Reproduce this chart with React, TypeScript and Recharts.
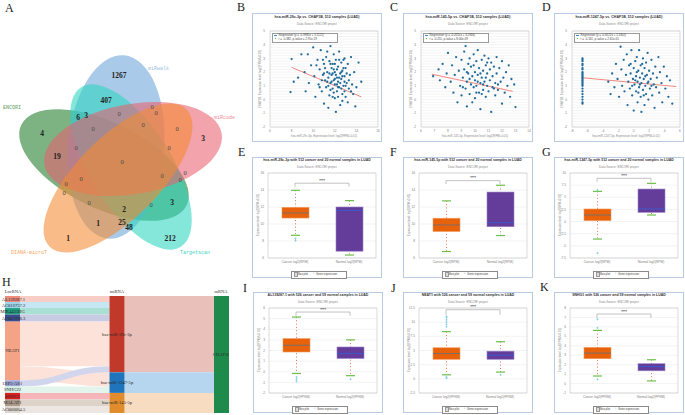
import React from 'react';
import {
  ScatterChart,
  Scatter,
  ComposedChart,
  Bar,
  Cell,
  XAxis,
  YAxis,
  CartesianGrid,
  ReferenceLine,
  ReferenceArea,
  Sankey,
} from 'recharts';

// ---------- A: Venn ----------
const vennSets = ['miRwalk', 'miRcode', 'Targetscan', 'DIANA-microT', 'ENCORI'];
const vennCounts = [
  1267, 407, 6, 3, 0, 0, 0, 0, 0, 0, 3, 4, 0, 19, 0, 0, 0, 0, 0, 0, 0, 0, 0, 2, 0, 3, 1, 25, 48, 1, 212,
];

// ---------- B-D: correlation scatter ----------
const scatterB: [number, number][] = [
  [7.9, 0.55], [8.0, 2.95], [8.2, 1.3], [8.6, 1.6], [8.9, 3.3], [9.2, 2.0], [9.3, 0.6], [9.5, 3.3], [9.6, 1.2], [9.8, 2.5],
  [10.0, 3.8], [10.1, 1.7], [10.2, 0.2], [10.4, 2.9], [10.5, 1.1], [10.6, 2.2], [10.7, 3.6], [10.8, 0.6], [10.9, 1.8], [11.0, 2.6],
  [11.0, -0.3], [11.1, 1.4], [11.2, 3.1], [11.2, 0.9], [11.3, 2.0], [11.4, 1.6], [11.4, -0.6], [11.5, 2.8], [11.5, 0.3], [11.6, 3.9],
  [11.6, 1.2], [11.7, 2.3], [11.7, 1.8], [11.8, 0.8], [11.8, 2.6], [11.9, 1.4], [11.9, 3.3], [12.0, 0.1], [12.0, 2.0], [12.0, 1.1],
  [12.1, -0.9], [12.1, 2.9], [12.2, 1.6], [12.2, 0.6], [12.3, 2.4], [12.3, 1.3], [12.4, 3.5], [12.4, 0.9], [12.5, 1.9], [12.5, -0.4],
  [12.6, 2.7], [12.6, 1.5], [12.7, 0.4], [12.7, 2.1], [12.8, 1.0], [12.9, 3.0], [12.9, 1.7], [13.0, 0.2], [13.0, 2.3], [13.1, 1.2],
  [13.2, -0.2], [13.2, 2.6], [13.3, 0.8], [13.4, 1.8], [13.5, 3.1], [13.6, 1.1], [13.7, 0.4], [13.8, 2.0], [14.0, 0.9], [14.2, 2.7],
  [14.45, 1.3], [13.9, -0.5], [11.3, 3.5], [10.3, 2.5], [11.9, 0.5], [12.8, 2.9], [11.4, 1.0], [11.6, 0.7], [11.8, 1.9], [11.9, 2.2],
  [12.0, 1.5], [12.1, 1.8], [12.2, 2.2], [12.3, 0.9], [12.4, 1.6], [12.5, 1.2], [12.6, 0.8], [12.7, 1.7], [12.8, 2.3], [12.9, 0.6],
  [11.5, 1.9], [11.7, 1.3], [12.0, 2.6], [12.2, 1.1], [12.6, 2.0], [11.3, 1.3], [11.0, 1.9], [10.8, 1.4], [10.6, 0.9], [12.4, 2.9],
  [12.9, 1.3], [13.1, 1.9], [13.3, 1.4], [13.5, 0.6], [11.8, 0.2], [12.3, 0.2], [11.1, 2.3], [10.9, 2.9], [12.7, -0.1], [13.0, 1.0],
  [11.6, 2.6],
];
const scatterC: [number, number][] = [
  [6.9, 1.7], [7.3, 2.2], [7.4, 1.4], [7.6, 2.6], [7.8, 0.9], [7.9, 1.9], [8.0, 3.4], [8.2, 1.3], [8.3, 2.5], [8.4, 0.5],
  [8.5, 1.8], [8.6, 3.1], [8.7, -0.2], [8.8, 2.1], [8.9, 1.0], [9.0, 2.9], [9.0, 0.3], [9.1, 1.6], [9.2, 3.5], [9.2, 2.2],
  [9.3, 0.8], [9.3, 3.9], [9.4, 1.3], [9.4, -0.5], [9.5, 2.6], [9.5, 1.9], [9.6, 0.4], [9.6, 3.0], [9.7, 1.1], [9.7, 2.4],
  [9.8, 1.7], [9.8, -0.2], [9.9, 3.3], [9.9, 0.9], [10.0, 2.0], [10.0, 1.4], [10.0, 0.1], [10.1, 2.8], [10.1, 1.0], [10.2, 3.6],
  [10.2, 1.8], [10.3, 0.5], [10.3, 2.3], [10.4, 1.2], [10.4, -0.7], [10.5, 2.9], [10.5, 1.6], [10.6, 0.7], [10.6, 2.1], [10.7, 3.2],
  [10.7, 1.3], [10.8, 0.2], [10.8, 2.5], [10.9, 1.0], [10.9, 1.9], [11.0, 3.0], [11.0, 0.6], [11.1, 2.2], [11.1, 1.4], [11.2, -0.9],
  [11.2, 2.7], [11.3, 0.9], [11.3, 1.7], [11.4, 2.4], [11.5, 0.3], [11.5, 1.2], [11.6, 3.1], [11.6, 1.9], [11.7, 0.7], [11.8, 2.3],
  [11.9, 1.3], [12.0, -0.3], [12.0, 2.8], [12.1, 1.6], [12.2, 0.5], [12.3, 2.0], [12.4, 1.0], [12.5, 2.5], [12.6, 0.2], [12.7, 1.5],
  [13.0, -0.55], [12.9, 1.1], [9.1, 0.9], [9.6, 1.5], [10.4, 1.9], [10.1, 0.5], [10.6, 1.1], [9.9, 2.5], [10.8, 1.6], [11.4, 0.8],
  [9.4, 2.0], [10.2, 1.3], [10.9, 2.7], [11.7, 1.1], [10.5, 0.4],
];
const scatterD: [number, number][] = [
  [-6.64, 3.0], [-6.64, 2.8], [-6.64, 2.6], [-6.64, 2.5], [-6.64, 2.3], [-6.64, 2.2], [-6.64, 2.0], [-6.64, 1.9], [-6.64, 1.8],
  [-6.64, 1.7], [-6.64, 1.6], [-6.64, 1.5], [-6.64, 1.4], [-6.64, 1.3], [-6.64, 1.2], [-6.64, 1.1], [-6.64, 1.0], [-6.64, 0.8],
  [-6.64, 0.6], [-6.64, 0.4], [-6.64, 0.2], [-6.64, 0.0], [-6.64, -0.2], [-6.64, -0.3], [-6.64, 2.9],
  [-3.3, 1.3], [-3.0, 0.4], [-2.8, 1.9], [-2.5, 0.9], [-2.3, 2.6], [-2.1, 1.5], [-1.9, 0.2], [-1.7, 3.85], [-1.6, 2.2], [-1.5, 1.0],
  [-1.3, 2.9], [-1.2, 0.6], [-1.0, 1.8], [-0.9, 3.3], [-0.8, -0.4], [-0.7, 1.3], [-0.6, 2.5], [-0.5, 0.8], [-0.4, 1.9], [-0.3, 3.6],
  [-0.2, 0.3], [-0.1, 1.5], [0.0, 2.3], [0.0, -0.8], [0.1, 1.1], [0.2, 2.8], [0.3, 0.6], [0.3, 1.7], [0.4, 3.1], [0.5, 1.3],
  [0.5, -0.2], [0.6, 2.1], [0.7, 0.9], [0.7, 3.6], [0.8, 1.6], [0.9, 0.2], [0.9, 2.5], [1.0, 1.2], [1.0, -0.9], [1.1, 1.9],
  [1.2, 3.0], [1.2, 0.7], [1.3, 1.5], [1.4, 2.3], [1.4, -0.4], [1.5, 1.0], [1.6, 2.7], [1.6, 0.4], [1.7, 1.8], [1.8, 3.4],
  [1.8, 1.2], [1.9, 0.0], [2.0, 2.1], [2.1, 0.8], [2.2, 1.5], [2.3, 2.9], [2.4, 0.3], [2.5, 1.9], [2.6, 1.1], [2.7, -0.6],
  [2.8, 2.4], [2.9, 0.9], [3.0, 1.6], [3.2, 3.1], [3.3, 0.5], [3.4, 2.0], [3.6, 1.2], [3.7, -0.2], [3.9, 2.4], [4.1, 0.8],
  [4.3, 1.7], [4.5, 0.2], [4.7, 1.4], [5.0, -0.3], [0.2, 1.4], [0.6, 0.5], [1.1, 2.6], [1.5, 1.7], [0.4, 2.0], [1.9, 1.3],
  [-0.2, 1.0], [2.3, 1.0], [0.8, 1.1], [1.3, 0.3], [-0.4, 2.6],
];
// regression endpoints [x0, y0, x1, y1]
const regB = [8.0, 2.35, 14.45, 0.2];
const regC = [6.8, 1.85, 12.8, 0.6];
const regD = [-6.64, 1.59, 5.5, 0.95];
const scatterYTicks = [-2, -1, 0, 1, 2, 3, 4, 5];
const xTicksB = [6, 8, 10, 12, 14, 16];
const xTicksC = [6, 7, 8, 9, 10, 11, 12, 13, 14];
const xTicksD = [-8, -6, -4, -2, 0, 2, 4, 6];

// ---------- E-G, I-K: box plots [min, q1, median, q3, max] ----------
const groupsMiR = ['Cancer log2(RPM)', 'Normal log2(RPM)'];
const groupsLnc = ['Cancer log2(FPKM)', 'Normal log2(FPKM)'];
const boxE = [[8.67, 10.7, 11.3, 11.96, 13.96], [6.35, 6.8, 11.6, 12.0, 12.75]];
const boxF = [[6.76, 9.12, 9.88, 10.68, 12.72], [8.64, 9.68, 10.16, 13.76, 14.56]];
const boxG = [[-3.6, 0.19, 1.35, 2.59, 6.22], [1.35, 1.9, 2.6, 6.7, 7.87]];
const boxI = [[-0.16, 1.86, 2.49, 3.12, 5.15], [-0.37, 1.25, 1.73, 2.33, 3.0]];
const boxJ = [[0.71, 3.45, 4.46, 5.48, 8.33], [1.19, 3.45, 4.17, 4.88, 6.55]];
const boxK = [[0.8, 2.63, 3.23, 3.83, 5.63], [0.28, 1.35, 1.8, 2.1, 2.52]];
const outE = [[8.3, 8.05], []];
const outF = [[], []];
const outG = [[6.5, -6.5], []];
const outI = [[-0.5, -0.7, -0.9], [-0.7]];
const outJ = [[9.2, 9.6, 10.0, 10.4, 10.8, 11.0, 0.1, 0.3], [0.7]];
const outK = [[6.8, 5.9, 0.45], []];
const bracketE = [14.8, 14.4];
const bracketF = [15.1, 14.7];
const bracketG = [8.9, 8.2];
const bracketI = [5.62, 5.27];
const bracketJ = [12.2, 11.3];
const bracketK = [7.36, 6.93];
const ticksE = [6, 8, 10, 12, 14, 16];
const ticksG = [-7.5, -5, -2.5, 0, 2.5, 5, 7.5, 10];
const ticksI = [-2, -1, 0, 1, 2, 3, 4, 5, 6];
const ticksJ = [-2.5, 0, 2.5, 5, 7.5, 10, 12.5];
const ticksK = [-1, 0, 1, 2, 3, 4, 5, 6, 7, 8];

// ---------- H: sankey ----------
const lncNames = ['AL139287.1', 'AC016757.2', 'MIR4435HG', 'AC007298.3', 'NEAT1', 'OIP5-AS1', 'SNHG22', 'SNHG1', 'MALAT1', 'AC006064.5'];
const mirNames = ['hsa-miR-29c-3p', 'hsa-miR-1247-5p', 'hsa-miR-145-5p'];
const mrnaNames = ['CHAF1B'];
const lncMirLinks: [string, string, number][] = [
  ['AL139287.1', 'hsa-miR-29c-3p', 6],
  ['AC016757.2', 'hsa-miR-29c-3p', 6],
  ['MIR4435HG', 'hsa-miR-29c-3p', 6.5],
  ['AC007298.3', 'hsa-miR-29c-3p', 7],
  ['NEAT1', 'hsa-miR-29c-3p', 44.5],
  ['NEAT1', 'hsa-miR-1247-5p', 14],
  ['OIP5-AS1', 'hsa-miR-29c-3p', 6],
  ['SNHG22', 'hsa-miR-1247-5p', 6.5],
  ['SNHG1', 'hsa-miR-145-5p', 6.5],
  ['MALAT1', 'hsa-miR-145-5p', 6.5],
  ['AC006064.5', 'hsa-miR-145-5p', 7],
];
const mirMrnaLinks: [string, string, number][] = [
  ['hsa-miR-29c-3p', 'CHAF1B', 76],
  ['hsa-miR-1247-5p', 'CHAF1B', 20.5],
  ['hsa-miR-145-5p', 'CHAF1B', 20],
];

// ---------- styles ----------
const vennShapes = [
  { x: 116, y: 147, rx: 92, ry: 48, angle: 95, color: '#6aa4d8' },
  { x: 133, y: 149, rx: 90, ry: 45, angle: -10, color: '#e8606e' },
  { x: 131, y: 167, rx: 94, ry: 41, angle: 58, color: '#2dd4bf' },
  { x: 118, y: 178, rx: 97, ry: 41, angle: -45, color: '#f58a30' },
  { x: 104, y: 165, rx: 92, ry: 43, angle: 26, color: '#1f7a2a' },
];
const vennDrawOrder = [4, 0, 2, 1, 3];
const vennSetLabelStyle = [
  { x: 148, y: 69, color: '#9cc2e6' },
  { x: 214, y: 118, color: '#ef8b97' },
  { x: 180, y: 253, color: '#3fcfbf' },
  { x: 11, y: 253, color: '#f4a462' },
  { x: 3, y: 108, color: '#5a9e5a' },
];
const vennCountPos: [number, number][] = [
  [119, 75], [106, 100], [78, 117], [86, 115], [152, 106], [156, 112], [119, 113], [93, 128], [143, 124], [177, 128], [203, 138],
  [42, 133], [76, 147], [57, 156], [169, 147], [122, 161], [81, 178], [66, 183], [64, 192], [162, 175], [185, 172], [180, 179],
  [89, 202], [124, 209], [151, 204], [172, 202], [98, 223], [122, 222], [129, 227], [68, 238], [170, 238],
];
const nodeColors: Record<string, string> = {
  'AL139287.1': '#ee8b7b', 'AC016757.2': '#9fd4ea', MIR4435HG: '#1f9e82', 'AC007298.3': '#3c4d8e', NEAT1: '#f4a386',
  'OIP5-AS1': '#9ba5d6', SNHG22: '#d5efe3', SNHG1: '#d91f1f', MALAT1: '#a99888', 'AC006064.5': '#ddd6cf',
  'hsa-miR-29c-3p': '#c0392b', 'hsa-miR-1247-5p': '#1f74bb', 'hsa-miR-145-5p': '#e08c2c', CHAF1B: '#1e8a4c',
};
const linkColors: Record<string, string> = {
  'AL139287.1': '#f7cdc6', 'AC016757.2': '#c5e6f2', MIR4435HG: '#a9e0d3', 'AC007298.3': '#c7cbe3', NEAT1: '#fde2d9',
  'OIP5-AS1': '#d2d6ec', SNHG22: '#e3f4ec', SNHG1: '#f5b5b9', MALAT1: '#ddd3c9', 'AC006064.5': '#ece7e3',
  'hsa-miR-29c-3p': '#e9c1ba', 'hsa-miR-1247-5p': '#b5d6ee', 'hsa-miR-145-5p': '#f8dcc2',
};
const boxColors = ['#e8620c', '#643c9a'];
const boxEdges = ['#f29a5c', '#9a84c8'];
const medianColors = ['#707070', '#3a5bd0'];
const sansFont = '"Liberation Sans", Arial, sans-serif';
const serifFont = '"Liberation Serif", "Times New Roman", serif';
const tick = { fontSize: 3.2, fill: '#808080' };

function Txt({ x, y, size, color = '#333', weight = 400, anchor = 'start', font = sansFont, rotate = 0, children }: any) {
  const tx = anchor === 'middle' ? '-50%' : anchor === 'end' ? '-100%' : '0';
  return (
    <div
      style={{
        position: 'absolute', left: x, top: y, fontSize: size, color, fontWeight: weight, fontFamily: font,
        whiteSpace: 'nowrap', lineHeight: 1, transform: `translate(${tx}, -50%) rotate(${rotate}deg)`,
        transformOrigin: anchor === 'middle' ? '50% 50%' : '0 50%',
      }}
    >
      {children}
    </div>
  );
}

// ---------- Venn ----------
const EllipseShape = (p: any) => {
  const s = p.payload;
  return (
    <ellipse cx={p.cx} cy={p.cy} rx={s.rx} ry={s.ry} transform={`rotate(${s.angle} ${p.cx} ${p.cy})`}
      fill={s.color} fillOpacity={0.58} />
  );
};
const CountShape = (p: any) => {
  const v = p.payload.v;
  return (
    <text x={p.cx} y={p.cy} textAnchor="middle" dominantBaseline="central" fontFamily={serifFont}
      fontSize={v === 0 ? 6.5 : 7.5} fontWeight={v === 0 ? 400 : 700} fill={v === 0 ? '#4a4a4a' : '#222'}>
      {v}
    </text>
  );
};
const SetShape = (p: any) => (
  <text x={p.cx} y={p.cy} dominantBaseline="central" fontFamily='"Liberation Mono", monospace' fontSize={5}
    fill={p.payload.color}>
    {p.payload.name}
  </text>
);

function VennPanel() {
  const ellipses = vennDrawOrder.map((i) => ({ ...vennShapes[i], name: vennSets[i] }));
  const counts = vennCounts.map((v, i) => ({ x: vennCountPos[i][0], y: vennCountPos[i][1], v }));
  const sets = vennSets.map((name, i) => ({ ...vennSetLabelStyle[i], name }));
  return (
    <div style={{ position: 'absolute', left: 0, top: 0 }}>
      <ScatterChart width={248} height={260} margin={{ top: 0, right: 0, bottom: 0, left: 0 }}>
        <XAxis type="number" dataKey="x" domain={[0, 248]} hide />
        <YAxis type="number" dataKey="y" domain={[0, 260]} reversed hide />
        <Scatter data={ellipses} shape={EllipseShape} isAnimationActive={false} />
        <Scatter data={counts} shape={CountShape} isAnimationActive={false} />
        <Scatter data={sets} shape={SetShape} isAnimationActive={false} />
      </ScatterChart>
    </div>
  );
}

// ---------- Sankey ----------
const SankeyNode = (p: any) => {
  const name: string = p.payload.name;
  const half = name.length * 1.2;
  // keep long lncRNA labels inside the left edge of the picture
  const cx = p.x < 8 ? Math.max(p.x + p.width / 2, half + 1.5) : p.x + p.width / 2;
  return (
    <g>
      <rect x={p.x} y={p.y} width={p.width} height={p.height} fill={nodeColors[name]} />
      <text x={cx} y={p.y + p.height / 2} textAnchor="middle" dominantBaseline="central" fontFamily={serifFont}
        fontSize={4.6} fill="#2a2a2a">
        {name}
      </text>
    </g>
  );
};
const SankeyLink = (p: any) => {
  const src = p.payload.source.name;
  return (
    <path
      d={`M${p.sourceX},${p.sourceY} C${p.sourceControlX},${p.sourceY} ${p.targetControlX},${p.targetY} ${p.targetX},${p.targetY}`}
      fill="none" stroke={linkColors[src]} strokeWidth={p.linkWidth} />
  );
};

function SankeyPanel() {
  const names = [...lncNames, ...mirNames, ...mrnaNames];
  const nodes = names.map((name) => ({ name }));
  const links = [...lncMirLinks, ...mirMrnaLinks].map(([s, t, v]) => ({
    source: names.indexOf(s), target: names.indexOf(t), value: v,
  }));
  return (
    <>
      <Txt x={13} y={292} size={4.5} font={serifFont} anchor="middle">LncRNA</Txt>
      <Txt x={117} y={292} size={4.5} font={serifFont} anchor="middle">miRNA</Txt>
      <Txt x={221} y={292} size={4.5} font={serifFont} anchor="middle">mRNA</Txt>
      <div style={{ position: 'absolute', left: 0, top: 296 }}>
        <Sankey width={229} height={117} data={{ nodes, links }} nodeWidth={15} nodePadding={0} iterations={0}
          sort={false} margin={{ top: 0, right: 0, bottom: 0, left: 5 }} node={SankeyNode} link={SankeyLink} />
      </div>
    </>
  );
}

// ---------- Scatter panels ----------
const scatterGrid = Array.from({ length: 36 }, (_, i) => -2 + i * 0.2);
const Dot = (p: any) => <circle cx={p.cx} cy={p.cy} r={1.15} fill="#1f6b9c" />;

function ScatterPanel({ left, top, title, xLabel, regText, statText, points, reg, xDomain, xTicks }: any) {
  const data = points.map(([x, y]: number[]) => ({ x, y }));
  return (
    <div style={{ position: 'absolute', left, top, width: 130, height: 129, background: '#fff', boxShadow: 'inset 0 0 0 1px #b9cbe3' }}>
      <Txt x={65} y={4.6} size={3.6} weight={700} anchor="middle" color="#333">{title}</Txt>
      <Txt x={65} y={11} size={3} anchor="middle" color="#888">Data Source: ENCORI project</Txt>
      <div style={{ position: 'absolute', left: 0, top: 0 }}>
        <ScatterChart width={130} height={129} margin={{ top: 18, right: 4, bottom: 8, left: 0 }}>
          <CartesianGrid horizontalValues={scatterGrid} vertical={false} stroke="#e2e2e2" strokeWidth={0.4} />
          <ReferenceArea x1={xDomain[0]} x2={xDomain[1]} y1={-2} y2={5} fill="none" stroke="#c4c4c4" strokeWidth={0.6} />
          <XAxis type="number" dataKey="x" domain={xDomain} ticks={xTicks} height={7} tick={tick} tickLine={false}
            axisLine={false} tickSize={2} tickMargin={1} interval={0} allowDataOverflow />
          <YAxis type="number" dataKey="y" domain={[-2, 5]} ticks={scatterYTicks} width={18} tick={tick}
            tickLine={false} axisLine={false} tickSize={2} tickMargin={3} interval={0} />
          <Scatter data={data} shape={Dot} isAnimationActive={false} />
          <ReferenceLine segment={[{ x: reg[0], y: reg[1] }, { x: reg[2], y: reg[3] }]} stroke="#ec6a60" strokeWidth={0.8} />
        </ScatterChart>
      </div>
      <div style={{ position: 'absolute', left: 20, top: 19.5, width: 64, height: 8.5, background: '#fff', border: '0.5px solid #9a9a9a' }} />
      <div style={{ position: 'absolute', left: 21.5, top: 21.6, width: 3.5, height: 0.7, background: '#3b8fd4' }} />
      <Txt x={26.5} y={22} size={2.9} color="#444">{regText}</Txt>
      <div style={{ position: 'absolute', left: 22.5, top: 24.9, width: 1.4, height: 1.4, background: '#54b948' }} />
      <Txt x={26.5} y={25.7} size={2.9} color="#444">{statText}</Txt>
      <Txt x={7.5} y={66} size={2.9} anchor="middle" rotate={-90} color="#888">CHAF1B, Expression level: log2(FPKM+0.01)</Txt>
      <Txt x={72} y={123} size={2.9} anchor="middle" color="#888">{xLabel}</Txt>
    </div>
  );
}

// ---------- Box panels ----------
function BoxShape(props: any) {
  const { x, y, width, height, payload, index } = props;
  const [mn, q1, md, q3, mx] = payload.stats as number[];
  const topY = height >= 0 ? y : y + height;
  const h = Math.abs(height);
  const toY = (v: number) => topY + (h * (mx - v)) / (mx - mn);
  const cx = x + width / 2;
  const cap = 4.5;
  return (
    <g>
      <line x1={cx} x2={cx} y1={toY(mx)} y2={toY(mn)} stroke="#e0532b" strokeWidth={0.9} strokeDasharray="0.9 2.4" />
      <rect x={x} y={toY(q3)} width={width} height={toY(q1) - toY(q3)} fill={boxColors[index]} stroke={boxEdges[index]}
        strokeWidth={0.6} />
      <line x1={x} x2={x + width} y1={toY(md)} y2={toY(md)} stroke={medianColors[index]} strokeWidth={0.9} />
      <line x1={cx - cap} x2={cx + cap} y1={toY(mx)} y2={toY(mx)} stroke="#6cc04a" strokeWidth={1.2} />
      <line x1={cx - cap} x2={cx + cap} y1={toY(mn)} y2={toY(mn)} stroke="#6cc04a" strokeWidth={1.2} />
      {(payload.outliers as number[]).map((v, i) => (
        <path key={i} d={`M${cx - 1.1},${toY(v)}h2.2M${cx},${toY(v) - 1.1}v2.2`} stroke="#78c8e8" strokeWidth={0.7} />
      ))}
    </g>
  );
}

const GroupTick = (p: any) => (
  <text x={p.x} y={p.y} dy="0.71em" textAnchor="middle" fontSize={3.2} fill="#808080">
    {p.payload.value}
  </text>
);

function BoxPanel({ left, top, title, groups, stats, outliers, yDomain, yTicks, bracket, yLabel }: any) {
  const data = groups.map((name: string, i: number) => ({
    name, range: [stats[i][0], stats[i][4]], stats: stats[i], outliers: outliers[i],
  }));
  const [g0, g1] = groups;
  return (
    <div style={{ position: 'absolute', left, top, width: 130, height: 121, background: '#fff', boxShadow: 'inset 0 0 0 1px #b9cbe3' }}>
      <Txt x={65} y={4.4} size={3.5} weight={700} anchor="middle" color="#333">{title}</Txt>
      <Txt x={65} y={10.4} size={3} anchor="middle" color="#888">Data Source: ENCORI project</Txt>
      <div style={{ position: 'absolute', left: 0, top: 0 }}>
        <ComposedChart width={130} height={121} data={data} margin={{ top: 16, right: 6, bottom: 14, left: 0 }}>
          <CartesianGrid vertical={false} stroke="#e6e6e6" strokeWidth={0.5} />
          <ReferenceArea y1={yDomain[0]} y2={yDomain[1]} fill="none" stroke="#c4c4c4" strokeWidth={0.6} />
          <XAxis dataKey="name" height={6} tick={GroupTick} tickLine={false} axisLine={false} tickSize={2} tickMargin={1} interval={0} />
          <YAxis type="number" domain={yDomain} ticks={yTicks} width={16} tick={tick} tickLine={false} axisLine={false}
            tickSize={2} tickMargin={2} interval={0} allowDataOverflow />
          <Bar dataKey="range" barSize={27} shape={BoxShape} isAnimationActive={false}>
            {data.map((_: any, i: number) => <Cell key={i} fill={boxColors[i]} />)}
          </Bar>
          <ReferenceLine segment={[{ x: g0, y: bracket[0] }, { x: g1, y: bracket[0] }]} stroke="#9a9a9a" strokeWidth={0.6}
            label={{ value: '****', position: 'top', fontSize: 3.6, fontWeight: 700, fill: '#555', offset: 1.5 }} />
          <ReferenceLine segment={[{ x: g0, y: bracket[0] }, { x: g0, y: bracket[1] }]} stroke="#9a9a9a" strokeWidth={0.6} />
          <ReferenceLine segment={[{ x: g1, y: bracket[0] }, { x: g1, y: bracket[1] }]} stroke="#9a9a9a" strokeWidth={0.6} />
        </ComposedChart>
      </div>
      <Txt x={6} y={58} size={2.8} anchor="middle" rotate={-90} color="#888">{yLabel}</Txt>
      <div style={{ position: 'absolute', left: 39, top: 113.5, width: 54, height: 6, border: '0.5px solid #8a8a8a', background: '#fff' }} />
      <div style={{ position: 'absolute', left: 41.5, top: 115.3, width: 2.4, height: 2.4, border: '0.4px solid #999', background: '#ddd' }} />
      <Txt x={46} y={116.7} size={2.8} color="#444">Box plot</Txt>
      <Txt x={61.5} y={116.6} size={3.6} color="#78c8e8" anchor="middle">+</Txt>
      <Txt x={64} y={116.7} size={2.8} color="#444">Gene expression</Txt>
    </div>
  );
}

const letters: [string, number, number][] = [
  ['A', 5, 8], ['B', 237, 7], ['C', 390, 7], ['D', 542, 7],
  ['E', 238, 152], ['F', 390, 152], ['G', 542, 152],
  ['H', 2, 282], ['I', 243, 288], ['J', 391, 288], ['K', 540, 287],
];

export default function App() {
  const miRLabel = 'Expression level: log2(RPM+0.01)';
  const lncLabel = 'Expression level: log2(FPKM+0.01)';
  return (
    <div style={{ position: 'absolute', left: 0, top: 0, width: 685, height: 415, background: '#fff', overflow: 'hidden', fontFamily: sansFont }}>
      <VennPanel />
      <SankeyPanel />
      <ScatterPanel left={252} top={13} title="hsa-miR-29c-3p vs. CHAF1B, 512 samples (LUAD)"
        xLabel="hsa-miR-29c-3p, Expression level: log2(RPM+0.01)" regText="Regression (y = -0.3985x + 5.1122)"
        statText="r = -0.382, p-value = 2.91e-19" points={scatterB} reg={regB} xDomain={[6, 16]} xTicks={xTicksB} />
      <ScatterPanel left={403} top={13} title="hsa-miR-145-5p vs. CHAF1B, 512 samples (LUAD)"
        xLabel="hsa-miR-145-5p, Expression level: log2(RPM+0.01)" regText="Regression (y = -0.2051x + 3.2946)"
        statText="r = -0.251, p-value = 8.06e-09" points={scatterC} reg={regC} xDomain={[6, 14]} xTicks={xTicksC} />
      <ScatterPanel left={554} top={13} title="hsa-miR-1247-5p vs. CHAF1B, 512 samples (LUAD)"
        xLabel="hsa-miR-1247-5p, Expression level: log2(RPM+0.01)" regText="Regression (y = -0.0521x + 1.2402)"
        statText="r = -0.161, p-value = 2.61e-05" points={scatterD} reg={regD} xDomain={[-8, 6]} xTicks={xTicksD} />
      <BoxPanel left={252} top={157} title="hsa-miR-29c-3p with 512 cancer and 20 normal samples in LUAD"
        groups={groupsMiR} stats={boxE} outliers={outE} yDomain={[6, 16]} yTicks={ticksE} bracket={bracketE} yLabel={miRLabel} />
      <BoxPanel left={403} top={157} title="hsa-miR-145-5p with 512 cancer and 20 normal samples in LUAD"
        groups={groupsMiR} stats={boxF} outliers={outF} yDomain={[6, 16]} yTicks={ticksE} bracket={bracketF} yLabel={miRLabel} />
      <BoxPanel left={554} top={157} title="hsa-miR-1247-5p with 512 cancer and 20 normal samples in LUAD"
        groups={groupsMiR} stats={boxG} outliers={outG} yDomain={[-7.5, 10]} yTicks={ticksG} bracket={bracketG} yLabel={miRLabel} />
      <BoxPanel left={253} top={292} title="AL139287.1 with 526 cancer and 59 normal samples in LUAD"
        groups={groupsLnc} stats={boxI} outliers={outI} yDomain={[-2, 6]} yTicks={ticksI} bracket={bracketI} yLabel={lncLabel} />
      <BoxPanel left={403} top={292} title="NEAT1 with 526 cancer and 59 normal samples in LUAD"
        groups={groupsLnc} stats={boxJ} outliers={outJ} yDomain={[-2.5, 12.5]} yTicks={ticksJ} bracket={bracketJ} yLabel={lncLabel} />
      <BoxPanel left={554} top={292} title="SNHG1 with 526 cancer and 59 normal samples in LUAD"
        groups={groupsLnc} stats={boxK} outliers={outK} yDomain={[-1, 8]} yTicks={ticksK} bracket={bracketK} yLabel={lncLabel} />
      {letters.map(([l, x, y]) => (
        <Txt key={l} x={x} y={y} size={12} font={serifFont} color="#222">{l}</Txt>
      ))}
    </div>
  );
}
